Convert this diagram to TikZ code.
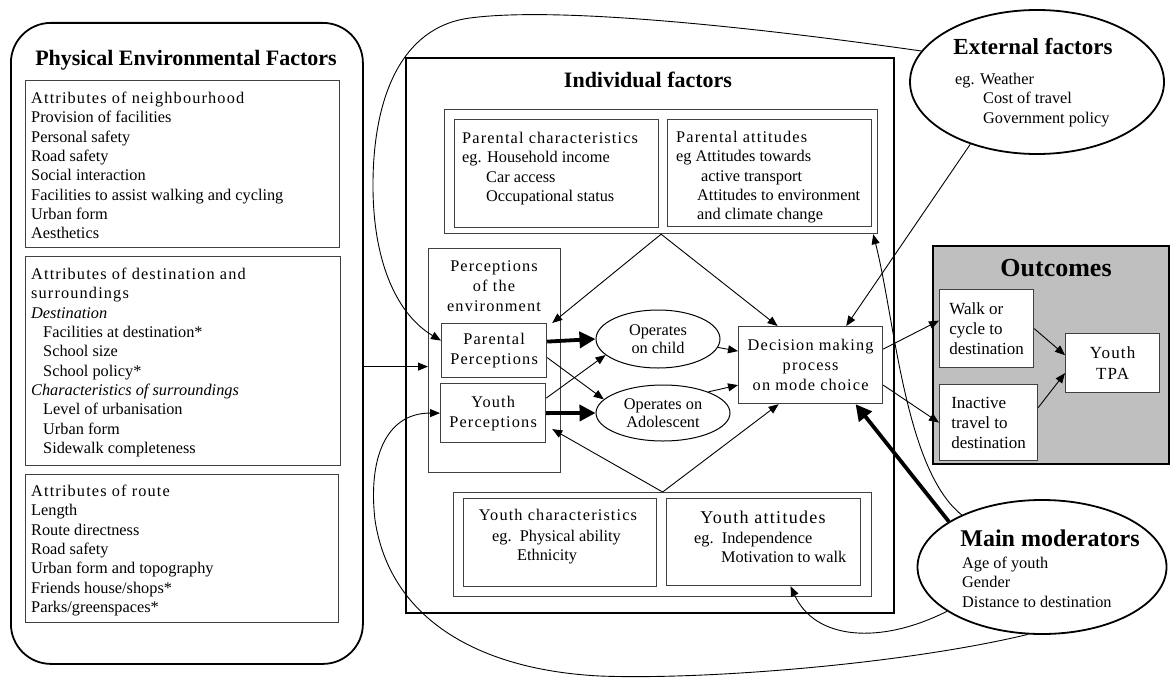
\documentclass[tikz,border=0pt]{standalone}
\usepackage{fontspec}
\setmainfont{Liberation Serif}
\newfontfamily\hdfont[LetterSpace=7]{Liberation Serif}
\usetikzlibrary{shapes.geometric,arrows.meta}

\begin{document}
\begin{tikzpicture}[x=1pt,y=-1pt,
  every node/.style={font=\fontsize{16.3}{19.3}\selectfont},
  box/.style={draw=black!75,line width=1.2pt,inner sep=0pt,anchor=north west},
  bigbox/.style={draw,line width=1.8pt,inner sep=0pt,anchor=north west},
  txt/.style={inner sep=0pt,anchor=north west,align=left},
  hd/.style={font=\hdfont\fontsize{16.3}{20}\selectfont,align=center},
  ttl/.style={font=\bfseries\fontsize{22}{24}\selectfont,inner sep=0pt},
  oval/.style={draw,ellipse,line width=1pt,inner sep=0pt,align=center,font=\fontsize{16.3}{18}\selectfont},
  conn/.style={line width=0.9pt,-{Triangle[length=10pt,width=8pt]}},
  heavy/.style={line width=3.8pt,-{Triangle[length=16pt,width=16pt]}}]
\useasboundingbox (0,0) rectangle (1174,677);

% physical environmental factors
\node[bigbox,rounded corners=40pt,minimum width=352pt,minimum height=641pt] (phys) at (10,22) {};
\node[ttl] (physttl) at (186,60) {Physical Environmental Factors};
\node[box,minimum width=314pt,minimum height=167pt] (nbhd) at (25,80) {};
\node[txt] (nbhdtxt) at (31,92) {{\hdfont Attributes of neighbourhood}\\Provision of facilities\\Personal safety\\Road safety\\Social interaction\\Facilities to assist walking and cycling\\Urban form\\Aesthetics};
\node[box,minimum width=315pt,minimum height=209pt] (dest) at (25,256) {};
\node[txt] (desttxt) at (31,268) {{\hdfont Attributes of destination and}\\{\hdfont surroundings}\\\textit{Destination}\\\hspace*{12pt}Facilities at destination*\\\hspace*{12pt}School size\\\hspace*{12pt}School policy*\\\textit{Characteristics of surroundings}\\\hspace*{12pt}Level of urbanisation\\\hspace*{12pt}Urban form\\\hspace*{12pt}Sidewalk completeness};
\node[box,minimum width=313pt,minimum height=148pt] (route) at (25,474) {};
\node[txt] (routetxt) at (31,485) {{\hdfont Attributes of route}\\Length\\Route directness\\Road safety\\Urban form and topography\\Friends house/shops*\\Parks/greenspaces*};

% individual factors
\node[bigbox,minimum width=488pt,minimum height=555pt] (ind) at (405,57) {};
\node[ttl] (indttl) at (648,80) {Individual factors};
\node[box,minimum width=433pt,minimum height=124pt] (pouter) at (444,109) {};
\node[box,minimum width=204pt,minimum height=108pt] (pc) at (454,119) {};
\node[txt] (pctxt) at (462,132) {{\hdfont Parental characteristics}\\eg. Household income\\\hspace*{24pt}Car access\\\hspace*{24pt}Occupational status};
\node[box,minimum width=204pt,minimum height=107pt] (pa) at (667,119) {};
\node[txt] (patxt) at (676,131) {{\hdfont Parental attitudes}\\eg Attitudes towards\\\hspace*{25pt}active transport\\\hspace*{21pt}Attitudes to environment\\\hspace*{21pt}and climate change};
\node[box,minimum width=132pt,minimum height=224pt] (perc) at (428,248) {};
\node[hd,inner sep=0pt,anchor=north] (perctxt) at (494,261) {Perceptions\\of the\\environment};
\node[box,hd,minimum width=105pt,minimum height=54pt] (pp) at (441,323) {Parental\\Perceptions};
\node[box,hd,minimum width=105pt,minimum height=59pt] (yp) at (440,383) {Youth\\Perceptions};
\node[oval,minimum width=124pt,minimum height=58pt] (och) at (658,339) {Operates\\on child};
\node[oval,minimum width=134pt,minimum height=56pt] (oad) at (663,413) {Operates on\\Adolescent};
\node[box,hd,minimum width=144pt,minimum height=77pt] (dec) at (738,326) {Decision making\\process\\on mode choice};
\node[box,minimum width=418pt,minimum height=104pt] (yo) at (453,492) {};
\node[box,minimum width=193pt,minimum height=88pt] (yc) at (463,498) {};
\node[hd,inner sep=0pt] (yctxt) at (558,515) {Youth characteristics};
\node[txt] (ycbody) at (492,530) {eg.\ \ Physical ability\\\hspace*{25pt}Ethnicity};
\node[box,minimum width=194pt,minimum height=87pt] (ya) at (666,498) {};
\node[hd,inner sep=0pt,font=\hdfont\fontsize{18}{20}\selectfont] (yatxt) at (763,517) {Youth attitudes};
\node[txt] (yabody) at (694,532) {eg.\ \ Independence\\\hspace*{27pt}Motivation to walk};

% external factors
\node[oval,line width=1.8pt,minimum width=254pt,minimum height=144pt] (ext) at (1037,82) {};
\node[ttl,font=\bfseries\fontsize{23}{25}\selectfont] (extttl) at (1033,47) {External factors};
\node[txt] (exttxt) at (955,73) {eg. Weather\\\hspace*{28pt}Cost of travel\\\hspace*{28pt}Government policy};

% outcomes
\node[bigbox,fill=gray!50,minimum width=236pt,minimum height=218pt] (out) at (932,245) {};
\node[ttl,font=\bfseries\fontsize{26}{28}\selectfont] (outttl) at (1056,268) {Outcomes};
\node[box,fill=white,align=left,minimum width=94pt,minimum height=78pt,font=\fontsize{17}{20}\selectfont] (walk) at (939,289) {Walk or\\cycle to\\destination};
\node[box,fill=white,align=left,minimum width=98pt,minimum height=76pt,font=\fontsize{17}{20}\selectfont] (inact) at (939,384) {Inactive\\travel to\\destination};
\node[box,hd,fill=white,minimum width=94pt,minimum height=59pt,font=\hdfont\fontsize{17}{21}\selectfont] (tpa) at (1065,333) {Youth\\TPA};

% main moderators
\node[oval,line width=1.8pt,minimum width=249pt,minimum height=134pt] (mod) at (1042,567) {};
\node[ttl,font=\bfseries\fontsize{24}{26}\selectfont] (modttl) at (1050,538) {Main moderators};
\node[txt] (modtxt) at (962,557) {Age of youth\\Gender\\Distance to destination};

% connectors
\coordinate (pin) at ([yshift=-6pt]perc.west);
\draw[conn] (phys.east |- pin) -- (pin);
\draw[conn] (pouter.south) -- ([xshift=5pt]pp.north east);
\draw[conn] (pouter.south) -- ([xshift=-33pt]dec.north);
\draw[conn] (yo.north) -- ([xshift=6pt,yshift=-16pt]yp.east);
\draw[conn] (yo.north) -- ([xshift=-32pt]dec.south);
\draw[heavy] ([yshift=9pt]pp.east) -- (och.west);
\draw[heavy] (yp.east) -- (oad.west);
\draw[conn] ([yshift=-7pt]pp.east) -- (oad.167);
\draw[conn] ([yshift=15pt]yp.east) -- (och.197);
\draw[conn] (och.-8) -- ([yshift=14pt]dec.west);
\draw[conn] (oad.25) -- ([yshift=-20pt]dec.west);
\draw[conn] ([yshift=16pt]dec.east) -- ([yshift=8pt]walk.west);
\draw[conn] ([yshift=-20pt]dec.east) -- (inact.west);
\draw[conn] (walk.east) -- ([yshift=8pt]tpa.west);
\draw[conn] ([yshift=15pt]inact.east) -- ([yshift=-10pt]tpa.west);
\draw[conn] (ext.-137) -- ([xshift=-37pt]dec.north east);
\draw[conn] (ext.165) .. controls (760,28) and (560,6) .. (470,18) .. controls (400,27) and (372,100) .. (373,190) .. controls (374,265) and (398,315) .. ([yshift=10pt]pp.west);
\draw[conn] (mod.-102) .. controls (900,665) and (700,680) .. (600,676) .. controls (480,670) and (390,620) .. (375,520) .. controls (368,460) and (385,413) .. (yp.west);
\draw[conn] (mod.205) .. controls (880,645) and (815,640) .. ([xshift=27pt]ya.south);
\draw[conn] (mod.147) .. controls (905,470) and (895,320) .. ([xshift=-5pt]pouter.south east);
\draw[heavy] (mod.154) -- ([xshift=45pt]dec.south);
\end{tikzpicture}
\end{document}
